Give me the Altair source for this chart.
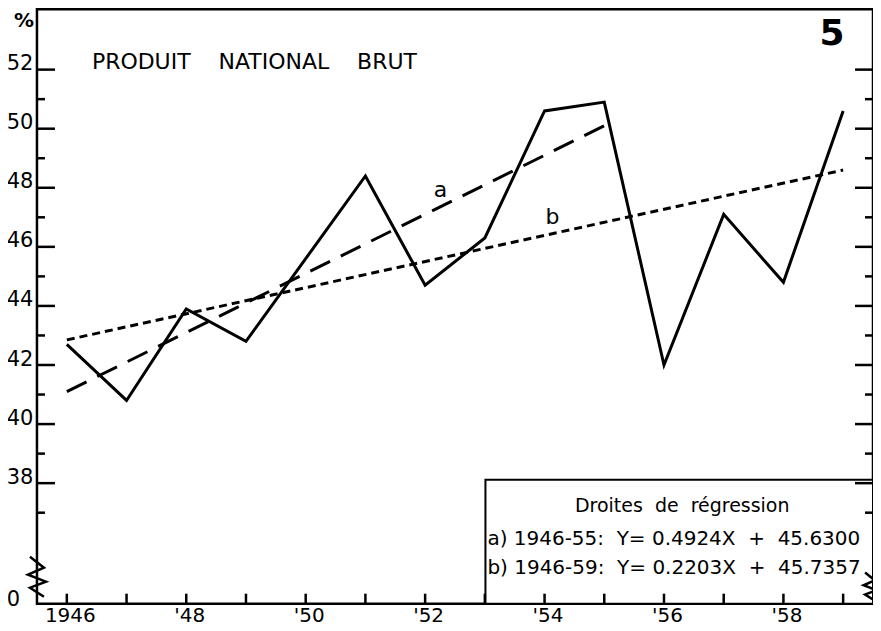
import json
import altair as alt
import pandas as pd

# ---- data ----
years = [1946, 1947, 1948, 1949, 1950, 1951, 1952, 1953, 1954, 1955, 1956, 1957, 1958, 1959]
gnp = [42.7, 40.8, 43.9, 42.8, 45.6, 48.4, 44.7, 46.3, 50.6, 50.9, 42.0, 47.1, 44.8, 50.6]

reg_a_years = [1946, 1955]
reg_a_vals = [41.1, 50.1]
reg_b_years = [1946, 1959]
reg_b_vals = [42.85, 48.6]

x_label_years = [1946, 1948, 1950, 1952, 1954, 1956, 1958]
x_label_texts = ["1946", "'48", "'50", "'52", "'54", "'56", "'58"]
y_major = [38, 40, 42, 44, 46, 48, 50, 52]
y_minor = [37, 39, 41, 43, 45, 47, 49, 51]
y_bottom = 33.92  # broken axis bottom, labelled "0"

NB = "\u00a0"
title_text = f"PRODUIT{NB*4}NATIONAL{NB*4}BRUT"
legend_title = f"Droites{NB*2}de{NB*2}régression"
legend_a = f"a){NB}1946-55:{NB*2}Y={NB}0.4924X{NB*2}+{NB*2}45.6300"
legend_b = f"b){NB}1946-59:{NB*2}Y={NB}0.2203X{NB*2}+{NB*2}45.7357"

# ---- layout ----
W, H = 837, 595
FONT = "DejaVu Sans"
xs = alt.Scale(domain=[1945.5, 1959.5], nice=False, zero=False)
ys = alt.Scale(domain=[y_bottom, 54.04], nice=False, zero=False)

df_gnp = pd.DataFrame({"year": years, "v": gnp})
df_a = pd.DataFrame({"year": reg_a_years, "v": reg_a_vals})
df_b = pd.DataFrame({"year": reg_b_years, "v": reg_b_vals})
df_major = pd.DataFrame({"v": y_major})
df_minor = pd.DataFrame({"v": y_minor})
df_years = pd.DataFrame({"year": years})

x_expr = "''"
for yr, t in zip(reversed(x_label_years), reversed(x_label_texts)):
    x_expr = f"datum.value == {yr} ? {json.dumps(t)} : ({x_expr})"

x_axis = alt.Axis(values=years, labelExpr=x_expr, ticks=False, domain=False, grid=False,
                  title=None, labelFont=FONT, labelFontSize=20, labelColor="black",
                  labelPadding=2, labelBaseline="top", labelFlush=False, labelOffset=3)
y_axis = alt.Axis(values=y_major, ticks=False, domain=False, grid=False, title=None,
                  labelFont=FONT, labelFontSize=21, labelColor="black", labelPadding=4,
                  labelBaseline="alphabetic", labelFlush=False)

X = lambda: alt.X("year:Q", scale=xs, axis=x_axis)
Y = lambda: alt.Y("v:Q", scale=ys, axis=y_axis)

# legend box
box = alt.Chart(pd.DataFrame({"d": [0]})).mark_rect(
    fill="white", stroke="black", strokeWidth=2
).encode(x=alt.value(449), x2=alt.value(W), y=alt.value(471), y2=alt.value(H))

# ticks (pointing inward)
tick_l_major = alt.Chart(df_major).mark_rule(color="black", strokeWidth=2.5).encode(
    y=Y(), x=alt.value(0), x2=alt.value(18))
tick_l_minor = alt.Chart(df_minor).mark_rule(color="black", strokeWidth=2.5).encode(
    y=Y(), x=alt.value(0), x2=alt.value(8))
tick_r_major = alt.Chart(df_major).mark_rule(color="black", strokeWidth=2.5).encode(
    y=Y(), x=alt.value(W), x2=alt.value(W - 18))
tick_r_minor = alt.Chart(df_minor).mark_rule(color="black", strokeWidth=2.5).encode(
    y=Y(), x=alt.value(W), x2=alt.value(W - 8))
tick_bottom = alt.Chart(df_years).mark_rule(color="black", strokeWidth=2.5).encode(
    x=X(), y=alt.value(H), y2=alt.value(H - 10))

# lines
solid = alt.Chart(df_gnp).mark_line(color="black", strokeWidth=3, strokeJoin="miter").encode(
    x=X(), y=Y())
line_a = alt.Chart(df_a).mark_line(color="black", strokeWidth=3, strokeDash=[22, 12]).encode(
    x=X(), y=Y())
line_b = alt.Chart(df_b).mark_line(color="black", strokeWidth=3, strokeDash=[8, 5]).encode(
    x=X(), y=Y())

def label(text, x, y, size=20, align="left", baseline="middle", weight="normal"):
    return alt.Chart(pd.DataFrame({"t": [text]})).mark_text(
        font=FONT, fontSize=size, align=align, baseline=baseline, color="black",
        fontWeight=weight
    ).encode(text="t:N", x=alt.value(x), y=alt.value(y))

texts = [
    label("%", -23, 12, size=20, weight="bold"),
    label("0", -17, 597, size=21, align="right", baseline="alphabetic"),
    label(title_text, 55, 53, size=22),
    label("5", 796, 25, size=36, align="center", weight="bold"),
    label("a", 404, 181, size=22, align="center"),
    label("b", 516, 208, size=22, align="center"),
    label(legend_title, 646, 497, size=19, align="center"),
    label(legend_a, 451, 530, size=20),
    label(legend_b, 451, 559, size=20),
]

zig = "M -0.35 -1 L 0.35 -0.45 L -0.45 -0.1 L 0.45 0.25 L -0.35 0.55 L 0.35 1"
zig_l = alt.Chart(pd.DataFrame({"d": [0]})).mark_point(
    shape=zig, filled=False, stroke="black", strokeWidth=2.5, size=1600, opacity=1
).encode(x=alt.value(0), y=alt.value(568))
zig_r = alt.Chart(pd.DataFrame({"d": [0]})).mark_point(
    shape=zig, filled=False, stroke="black", strokeWidth=2.5, size=800, opacity=1
).encode(x=alt.value(W - 3), y=alt.value(578))

chart = alt.layer(
    box, tick_l_major, tick_l_minor, tick_r_major, tick_r_minor, tick_bottom,
    line_b, line_a, solid, zig_l, zig_r, *texts
).properties(
    width=W, height=H,
    padding={"left": 29, "top": 1, "right": 0, "bottom": 27},
    autosize=alt.AutoSizeParams(type="none"),
    background="white",
).configure_view(stroke="black", strokeWidth=2.5)

chart.save("out.html", embed_options={"renderer": "svg", "actions": False})
